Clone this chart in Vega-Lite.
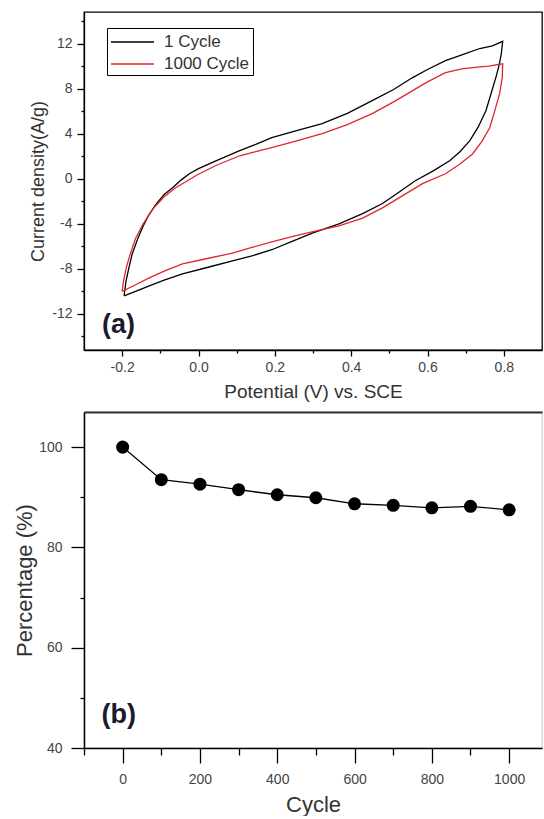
{
  "$schema": "https://vega.github.io/schema/vega-lite/v6.json",
  "padding": {"left": 12, "top": 11, "right": 0, "bottom": 0},
  "spacing": 9,
  "config": {
    "font": "Liberation Sans",
    "axis": {"domainColor": "#000", "tickColor": "#000", "labelColor": "#444", "titleColor": "#333", "grid": false, "labelFont": "Liberation Sans", "titleFont": "Liberation Sans", "titleFontWeight": "normal", "domainWidth": 1.3, "tickWidth": 1.3},
    "view": {"stroke": "#000", "strokeWidth": 1.3}
  },
  "datasets": {
    "cv": [
      {"s": "1 Cycle", "i": 0, "v": -0.195, "c": -10.4},
      {"s": "1 Cycle", "i": 1, "v": -0.19, "c": -9.1},
      {"s": "1 Cycle", "i": 2, "v": -0.183, "c": -8.0},
      {"s": "1 Cycle", "i": 3, "v": -0.174, "c": -6.7},
      {"s": "1 Cycle", "i": 4, "v": -0.16, "c": -5.4},
      {"s": "1 Cycle", "i": 5, "v": -0.147, "c": -4.35},
      {"s": "1 Cycle", "i": 6, "v": -0.13, "c": -3.2},
      {"s": "1 Cycle", "i": 7, "v": -0.11, "c": -2.2},
      {"s": "1 Cycle", "i": 8, "v": -0.09, "c": -1.4},
      {"s": "1 Cycle", "i": 9, "v": -0.068, "c": -0.8},
      {"s": "1 Cycle", "i": 10, "v": -0.045, "c": -0.1},
      {"s": "1 Cycle", "i": 11, "v": -0.024, "c": 0.44},
      {"s": "1 Cycle", "i": 12, "v": 0.0, "c": 0.9},
      {"s": "1 Cycle", "i": 13, "v": 0.047, "c": 1.6},
      {"s": "1 Cycle", "i": 14, "v": 0.108, "c": 2.5},
      {"s": "1 Cycle", "i": 15, "v": 0.15, "c": 3.05},
      {"s": "1 Cycle", "i": 16, "v": 0.192, "c": 3.64},
      {"s": "1 Cycle", "i": 17, "v": 0.25, "c": 4.2},
      {"s": "1 Cycle", "i": 18, "v": 0.324, "c": 4.9},
      {"s": "1 Cycle", "i": 19, "v": 0.39, "c": 5.8},
      {"s": "1 Cycle", "i": 20, "v": 0.455, "c": 6.93},
      {"s": "1 Cycle", "i": 21, "v": 0.51, "c": 7.9},
      {"s": "1 Cycle", "i": 22, "v": 0.561, "c": 8.98},
      {"s": "1 Cycle", "i": 23, "v": 0.6, "c": 9.7},
      {"s": "1 Cycle", "i": 24, "v": 0.647, "c": 10.49},
      {"s": "1 Cycle", "i": 25, "v": 0.69, "c": 11.0},
      {"s": "1 Cycle", "i": 26, "v": 0.737, "c": 11.56},
      {"s": "1 Cycle", "i": 27, "v": 0.77, "c": 11.8},
      {"s": "1 Cycle", "i": 28, "v": 0.797, "c": 12.2},
      {"s": "1 Cycle", "i": 29, "v": 0.793, "c": 11.0},
      {"s": "1 Cycle", "i": 30, "v": 0.787, "c": 10.0},
      {"s": "1 Cycle", "i": 31, "v": 0.779, "c": 8.98},
      {"s": "1 Cycle", "i": 32, "v": 0.766, "c": 7.5},
      {"s": "1 Cycle", "i": 33, "v": 0.753, "c": 6.04},
      {"s": "1 Cycle", "i": 34, "v": 0.733, "c": 4.6},
      {"s": "1 Cycle", "i": 35, "v": 0.711, "c": 3.38},
      {"s": "1 Cycle", "i": 36, "v": 0.685, "c": 2.4},
      {"s": "1 Cycle", "i": 37, "v": 0.658, "c": 1.6},
      {"s": "1 Cycle", "i": 38, "v": 0.615, "c": 0.7},
      {"s": "1 Cycle", "i": 39, "v": 0.568, "c": -0.18},
      {"s": "1 Cycle", "i": 40, "v": 0.525, "c": -1.2},
      {"s": "1 Cycle", "i": 41, "v": 0.482, "c": -2.2},
      {"s": "1 Cycle", "i": 42, "v": 0.43, "c": -3.1},
      {"s": "1 Cycle", "i": 43, "v": 0.368, "c": -4.0},
      {"s": "1 Cycle", "i": 44, "v": 0.3, "c": -4.8},
      {"s": "1 Cycle", "i": 45, "v": 0.25, "c": -5.5},
      {"s": "1 Cycle", "i": 46, "v": 0.192, "c": -6.3},
      {"s": "1 Cycle", "i": 47, "v": 0.14, "c": -6.85},
      {"s": "1 Cycle", "i": 48, "v": 0.089, "c": -7.3},
      {"s": "1 Cycle", "i": 49, "v": 0.02, "c": -7.9},
      {"s": "1 Cycle", "i": 50, "v": -0.042, "c": -8.44},
      {"s": "1 Cycle", "i": 51, "v": -0.09, "c": -9.0},
      {"s": "1 Cycle", "i": 52, "v": -0.129, "c": -9.5},
      {"s": "1 Cycle", "i": 53, "v": -0.165, "c": -10.0},
      {"s": "1 Cycle", "i": 54, "v": -0.195, "c": -10.4},
      {"s": "1000 Cycle", "i": 0, "v": -0.2, "c": -10.0},
      {"s": "1000 Cycle", "i": 1, "v": -0.197, "c": -9.2},
      {"s": "1000 Cycle", "i": 2, "v": -0.19, "c": -8.0},
      {"s": "1000 Cycle", "i": 3, "v": -0.18, "c": -6.8},
      {"s": "1000 Cycle", "i": 4, "v": -0.165, "c": -5.3},
      {"s": "1000 Cycle", "i": 5, "v": -0.145, "c": -4.0},
      {"s": "1000 Cycle", "i": 6, "v": -0.12, "c": -2.7},
      {"s": "1000 Cycle", "i": 7, "v": -0.09, "c": -1.6},
      {"s": "1000 Cycle", "i": 8, "v": -0.06, "c": -0.8},
      {"s": "1000 Cycle", "i": 9, "v": -0.03, "c": -0.2},
      {"s": "1000 Cycle", "i": 10, "v": -0.016, "c": 0.09},
      {"s": "1000 Cycle", "i": 11, "v": 0.0, "c": 0.4},
      {"s": "1000 Cycle", "i": 12, "v": 0.047, "c": 1.2},
      {"s": "1000 Cycle", "i": 13, "v": 0.108, "c": 2.04},
      {"s": "1000 Cycle", "i": 14, "v": 0.15, "c": 2.4},
      {"s": "1000 Cycle", "i": 15, "v": 0.192, "c": 2.76},
      {"s": "1000 Cycle", "i": 16, "v": 0.25, "c": 3.3},
      {"s": "1000 Cycle", "i": 17, "v": 0.324, "c": 4.0},
      {"s": "1000 Cycle", "i": 18, "v": 0.39, "c": 4.8},
      {"s": "1000 Cycle", "i": 19, "v": 0.455, "c": 5.78},
      {"s": "1000 Cycle", "i": 20, "v": 0.51, "c": 6.8},
      {"s": "1000 Cycle", "i": 21, "v": 0.561, "c": 7.82},
      {"s": "1000 Cycle", "i": 22, "v": 0.6, "c": 8.6},
      {"s": "1000 Cycle", "i": 23, "v": 0.647, "c": 9.42},
      {"s": "1000 Cycle", "i": 24, "v": 0.69, "c": 9.75},
      {"s": "1000 Cycle", "i": 25, "v": 0.718, "c": 9.87},
      {"s": "1000 Cycle", "i": 26, "v": 0.76, "c": 10.0},
      {"s": "1000 Cycle", "i": 27, "v": 0.797, "c": 10.2},
      {"s": "1000 Cycle", "i": 28, "v": 0.796, "c": 9.0},
      {"s": "1000 Cycle", "i": 29, "v": 0.789, "c": 7.56},
      {"s": "1000 Cycle", "i": 30, "v": 0.776, "c": 6.0},
      {"s": "1000 Cycle", "i": 31, "v": 0.763, "c": 4.53},
      {"s": "1000 Cycle", "i": 32, "v": 0.742, "c": 3.3},
      {"s": "1000 Cycle", "i": 33, "v": 0.718, "c": 2.2},
      {"s": "1000 Cycle", "i": 34, "v": 0.685, "c": 1.3},
      {"s": "1000 Cycle", "i": 35, "v": 0.647, "c": 0.44},
      {"s": "1000 Cycle", "i": 36, "v": 0.587, "c": -0.44},
      {"s": "1000 Cycle", "i": 37, "v": 0.535, "c": -1.5},
      {"s": "1000 Cycle", "i": 38, "v": 0.482, "c": -2.58},
      {"s": "1000 Cycle", "i": 39, "v": 0.43, "c": -3.5},
      {"s": "1000 Cycle", "i": 40, "v": 0.368, "c": -4.18},
      {"s": "1000 Cycle", "i": 41, "v": 0.3, "c": -4.7},
      {"s": "1000 Cycle", "i": 42, "v": 0.25, "c": -5.1},
      {"s": "1000 Cycle", "i": 43, "v": 0.192, "c": -5.6},
      {"s": "1000 Cycle", "i": 44, "v": 0.14, "c": -6.1},
      {"s": "1000 Cycle", "i": 45, "v": 0.089, "c": -6.6},
      {"s": "1000 Cycle", "i": 46, "v": 0.02, "c": -7.1},
      {"s": "1000 Cycle", "i": 47, "v": -0.042, "c": -7.56},
      {"s": "1000 Cycle", "i": 48, "v": -0.09, "c": -8.2},
      {"s": "1000 Cycle", "i": 49, "v": -0.129, "c": -8.8},
      {"s": "1000 Cycle", "i": 50, "v": -0.17, "c": -9.5},
      {"s": "1000 Cycle", "i": 51, "v": -0.2, "c": -10.0}
    ],
    "ret": [
      {"cycle": 0, "pct": 100.0},
      {"cycle": 100, "pct": 93.5},
      {"cycle": 200, "pct": 92.6},
      {"cycle": 300, "pct": 91.5},
      {"cycle": 400, "pct": 90.5},
      {"cycle": 500, "pct": 89.9},
      {"cycle": 600, "pct": 88.7},
      {"cycle": 700, "pct": 88.4},
      {"cycle": 800, "pct": 87.9},
      {"cycle": 900, "pct": 88.2},
      {"cycle": 1000, "pct": 87.5}
    ]
  },
  "vconcat": [
    {
      "width": 458,
      "height": 338,
      "resolve": {"axis": {"x": "independent", "y": "independent"}},
      "layer": [
        {
          "data": {"name": "cv"},
          "mark": {"type": "line", "strokeWidth": 1.3},
          "encoding": {
            "x": {"field": "v", "type": "quantitative", "scale": {"domain": [-0.3, 0.9], "nice": false, "zero": false},
              "axis": {"orient": "bottom", "values": [-0.2, 0, 0.2, 0.4, 0.6, 0.8], "labelExpr": "(datum.value < 0 ? '-' : '') + format(abs(datum.value), '.1f')", "tickSize": 6, "labelFontSize": 14, "labelPadding": 4, "title": "Potential (V) vs. SCE", "titleFontSize": 19, "titlePadding": 8}},
            "y": {"field": "c", "type": "quantitative", "scale": {"domain": [-15.2, 14.8], "nice": false, "zero": false},
              "axis": {"orient": "left", "values": [-12, -8, -4, 0, 4, 8, 12], "labelExpr": "(datum.value < 0 ? '-' : '') + format(abs(datum.value), 'd')", "tickSize": 7, "labelFontSize": 14, "labelPadding": 5, "title": "Current density(A/g)", "titleFontSize": 18, "titlePadding": 4}},
            "color": {"field": "s", "type": "nominal",
              "scale": {"domain": ["1 Cycle", "1000 Cycle"], "range": ["#000000", "#e0252c"]},
              "legend": {"orient": "none", "legendX": 23, "legendY": 16, "title": null, "strokeColor": "#000", "fillColor": "#fff", "padding": 3, "symbolType": "M-1,0H3.3", "symbolSize": 400, "symbolStrokeWidth": 1.3, "labelFontSize": 17, "labelOffset": 32, "rowPadding": 3, "labelColor": "#333", "labelFont": "Liberation Sans", "cornerRadius": 0}},
            "order": {"field": "i", "type": "quantitative"}
          }
        },
        {
          "data": {"values": [{"t": "(a)", "v": -0.253, "c": -13.0}]},
          "mark": {"type": "text", "align": "left", "baseline": "middle", "fontSize": 27, "fontWeight": "bold", "color": "#1a1a2e"},
          "encoding": {
            "text": {"field": "t"},
            "x": {"field": "v", "type": "quantitative",
              "axis": {"orient": "bottom", "values": [-0.1, 0.1, 0.3, 0.5, 0.7], "tickSize": 3, "labels": false, "domain": false, "title": null}},
            "y": {"field": "c", "type": "quantitative",
              "axis": {"orient": "left", "values": [-14, -10, -6, -2, 2, 6, 10, 14], "tickSize": 3, "labels": false, "domain": false, "title": null}}
          }
        }
      ]
    },
    {
      "width": 458,
      "height": 336,
      "view": {"stroke": "#d0d0d0"},
      "resolve": {"axis": {"x": "independent", "y": "independent"}},
      "layer": [
        {
          "data": {"name": "ret"},
          "mark": {"type": "line", "color": "#000", "strokeWidth": 1.3},
          "encoding": {
            "x": {"field": "cycle", "type": "quantitative", "scale": {"domain": [-100, 1085], "nice": false, "zero": false},
              "axis": {"orient": "bottom", "values": [0, 200, 400, 600, 800, 1000], "format": "d", "tickSize": 15, "labelFontSize": 14, "labelPadding": 9, "title": "Cycle", "titleFontSize": 22, "titlePadding": 8, "domainWidth": 1.5}},
            "y": {"field": "pct", "type": "quantitative", "scale": {"domain": [40, 107], "nice": false, "zero": false},
              "axis": {"orient": "left", "values": [40, 60, 80, 100], "tickSize": 13, "labelFontSize": 14, "labelPadding": 9, "title": "Percentage (%)", "titleFontSize": 22, "titlePadding": 2, "domainWidth": 1.5}}
          }
        },
        {
          "data": {"name": "ret"},
          "mark": {"type": "point", "filled": true, "color": "#000", "size": 170, "opacity": 1},
          "encoding": {
            "x": {"field": "cycle", "type": "quantitative",
              "axis": {"orient": "bottom", "values": [-100, 100, 300, 500, 700, 900], "tickSize": 7, "labels": false, "domain": false, "title": null}},
            "y": {"field": "pct", "type": "quantitative",
              "axis": {"orient": "left", "values": [50, 70, 90], "tickSize": 4, "labels": false, "domain": false, "title": null}}
          }
        },
        {
          "data": {"values": [{"t": "(b)", "cycle": -55, "pct": 46.5}]},
          "mark": {"type": "text", "align": "left", "baseline": "middle", "fontSize": 27, "fontWeight": "bold", "color": "#1a1a2e"},
          "encoding": {
            "text": {"field": "t"},
            "x": {"field": "cycle", "type": "quantitative",
              "axis": {"orient": "top", "domain": true, "domainWidth": 2.2, "domainColor": "#333", "ticks": false, "labels": false, "title": null}},
            "y": {"field": "pct", "type": "quantitative", "axis": null}
          }
        }
      ]
    }
  ]
}
